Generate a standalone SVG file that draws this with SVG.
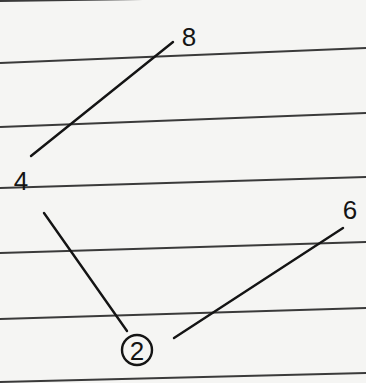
<svg xmlns="http://www.w3.org/2000/svg" width="366" height="383" viewBox="0 0 366 383">
<style>
.rule{stroke:#3a3a3a;stroke-width:1.9;fill:none}
.edge{stroke:#141414;stroke-width:2.4;fill:none;stroke-linecap:round}
.lbl{font-family:"Liberation Sans",Arial,sans-serif;font-size:26px;fill:#141414;text-anchor:middle;dominant-baseline:central}
</style>
<rect width="366" height="383" fill="#f5f5f3"/>
<g id="paper">
<path class="rule" d="M0 1 L366 -4"/>
<path class="rule" d="M0 63 L366 48"/>
<path class="rule" d="M0 127 L366 113"/>
<path class="rule" d="M0 188 L366 177"/>
<path class="rule" d="M0 253 L366 242"/>
<path class="rule" d="M0 319 L366 308"/>
<path class="rule" d="M0 382 L366 373"/>
</g>
<g id="connectors">
<line class="edge" x1="173" y1="42" x2="31" y2="156"/>
<line class="edge" x1="44" y1="213" x2="127" y2="331"/>
<line class="edge" x1="174" y1="338" x2="343" y2="228"/>
</g>
<g id="n8"><text class="lbl" x="189" y="37">8</text></g>
<g id="n4"><text class="lbl" x="21" y="181">4</text></g>
<g id="n6"><text class="lbl" x="350" y="210">6</text></g>
<g id="n2"><circle cx="137" cy="350" r="15" fill="none" stroke="#141414" stroke-width="2.4"/><text class="lbl" x="137" y="351">2</text></g>
</svg>
